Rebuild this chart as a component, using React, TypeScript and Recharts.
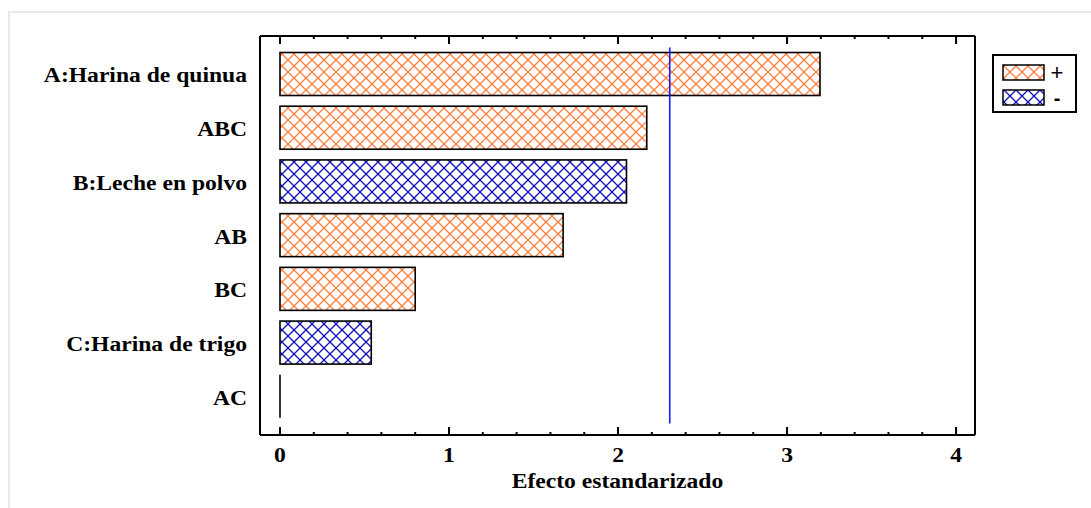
import React from "react";
import { BarChart, Bar, XAxis, YAxis, ReferenceLine, Label } from "recharts";

const categories = ["A:Harina de quinua", "ABC", "B:Leche en polvo", "AB", "BC", "C:Harina de trigo", "AC"];
const effects = [3.195, 2.17, 2.05, 1.675, 0.8, 0.54, 0.0];
const signs = ["+", "+", "-", "+", "+", "-", "+"];
const criticalValue = 2.306;
const majorTicks = [0, 1, 2, 3, 4];
const allTicks = [0, 0.2, 0.4, 0.6, 0.8, 1, 1.2, 1.4, 1.6, 1.8, 2, 2.2, 2.4, 2.6, 2.8, 3, 3.2, 3.4, 3.6, 3.8, 4];
const legendItems = ["+", "-"];
const xTitle = "Efecto estandarizado";

const data = categories.map((name, i) => ({ name, value: effects[i], sign: signs[i] }));

const ORANGE = "#ff7f3f";
const BLUE = "#1010b8";
const FONT = "Liberation Serif, Times New Roman, serif";
const SX = 1.18;
const FS = 20;
const PAD = 11.5;

const Patterns = ({ prefix }: { prefix: string }) => (
  <defs>
    <pattern id={prefix + "Pos"} patternUnits="userSpaceOnUse" width={12} height={12}>
      <rect width={12} height={12} fill="#fff" />
      <path d="M-3,-3 L15,15 M15,-3 L-3,15" stroke={ORANGE} strokeWidth={1.3} />
    </pattern>
    <pattern id={prefix + "Neg"} patternUnits="userSpaceOnUse" width={12} height={12}>
      <rect width={12} height={12} fill="#fff" />
      <path d="M-3,-3 L15,15 M15,-3 L-3,15" stroke={BLUE} strokeWidth={1.3} />
    </pattern>
  </defs>
);

const BarShape = (props: any) => {
  const { x, y, width, height, payload } = props;
  const fill = payload && payload.sign === "-" ? "url(#hNeg)" : "url(#hPos)";
  if (!width || width < 0.5) {
    return <line x1={x} x2={x} y1={y} y2={y + height} stroke="#000" strokeWidth={1.6} />;
  }
  return <rect x={x} y={y} width={width} height={height} fill={fill} stroke="#000" strokeWidth={1.6} />;
};

const RefShape = (props: any) => {
  const { x1, x2, y1, y2 } = props;
  const top = Math.min(y1, y2) + PAD;
  const bottom = Math.max(y1, y2) - PAD;
  return <line x1={x1} x2={x2} y1={top} y2={bottom} stroke="#1a1aff" strokeWidth={1.6} />;
};

const BottomTick = (props: any) => {
  const { x, y, payload } = props;
  const v = payload.value;
  const major = majorTicks.includes(v);
  return (
    <g>
      <line x1={x} x2={x} y1={y} y2={y - (major ? 8 : 3)} stroke="#000" strokeWidth={2} />
      {major && (
        <text
          x={0}
          y={0}
          transform={`translate(${x},${y + 27}) scale(${SX},1)`}
          textAnchor="middle"
          fontFamily={FONT}
          fontWeight="bold"
          fontSize={FS}
          fill="#000"
        >
          {v}
        </text>
      )}
    </g>
  );
};

const TopTick = (props: any) => {
  const { x, y, payload } = props;
  const major = majorTicks.includes(payload.value);
  return <line x1={x} x2={x} y1={y} y2={y + (major ? 8 : 3)} stroke="#000" strokeWidth={2} />;
};

const CatTick = (props: any) => {
  const { x, y, payload } = props;
  return (
    <text
      x={0}
      y={0}
      transform={`translate(${x - 13},${y + 8}) scale(${SX},1)`}
      textAnchor="end"
      fontFamily={FONT}
      fontWeight="bold"
      fontSize={FS}
      fill="#000"
    >
      {payload.value}
    </text>
  );
};

const Title = (props: any) => {
  const vb = props.viewBox || {};
  const cx = (vb.x || 0) + (vb.width || 0) / 2;
  return (
    <text
      x={0}
      y={0}
      transform={`translate(${cx},${(vb.y || 0) + 53}) scale(${SX},1)`}
      textAnchor="middle"
      fontFamily={FONT}
      fontWeight="bold"
      fontSize={FS}
      fill="#000"
    >
      {xTitle}
    </text>
  );
};

const LegendBox = () => (
  <svg width={86} height={60} style={{ position: "absolute", left: 992, top: 54 }}>
    <Patterns prefix="lg" />
    <rect x={1} y={1} width={83} height={57} fill="#fff" stroke="#000" strokeWidth={2} />
    {legendItems.map((s, i) => (
      <g key={s}>
        <rect
          x={11}
          y={11 + i * 25}
          width={41}
          height={15}
          fill={s === "-" ? "url(#lgNeg)" : "url(#lgPos)"}
          stroke="#000"
          strokeWidth={1.5}
        />
        <text
          x={65}
          y={26 + i * 25}
          textAnchor="middle"
          fontFamily="Liberation Sans, Arial, sans-serif"
          fontWeight={s === "-" ? "bold" : "normal"}
          fontSize={s === "-" ? 20 : 22}
          fill="#000"
        >
          {s}
        </text>
      </g>
    ))}
  </svg>
);

export default function App() {
  return (
    <div style={{ position: "fixed", left: 0, top: 0, width: 1091, height: 508, overflow: "hidden", background: "#fff" }}>
      <div
        style={{
          position: "absolute",
          left: 8,
          top: 11,
          width: 1120,
          height: 540,
          border: "2px solid #e8e8e8",
        }}
      />
      <div style={{ position: "absolute", left: 0, top: 0 }}>
        <BarChart
          width={1091}
          height={508}
          data={data}
          layout="vertical"
          margin={{ top: 35, right: 115, bottom: 23, left: 10 }}
          barCategoryGap={0}
        >
          <Patterns prefix="h" />
          <XAxis
            xAxisId="b"
            type="number"
            orientation="bottom"
            domain={[-0.1183, 4.112]}
            allowDataOverflow
            ticks={allTicks}
            interval={0}
            tickSize={0}
            tickMargin={0}
            tickLine={false}
            tick={<BottomTick />}
            height={50}
            axisLine={{ stroke: "#000", strokeWidth: 2 }}
          >
            <Label content={<Title />} />
          </XAxis>
          <XAxis
            xAxisId="t"
            type="number"
            orientation="top"
            domain={[-0.1183, 4.112]}
            allowDataOverflow
            ticks={allTicks}
            interval={0}
            tickSize={0}
            tickMargin={0}
            tickLine={false}
            tick={<TopTick />}
            height={1}
            axisLine={{ stroke: "#000", strokeWidth: 2 }}
          />
          <YAxis
            yAxisId="l"
            type="category"
            dataKey="name"
            width={250}
            tickSize={0}
            tickMargin={0}
            tickLine={false}
            interval={0}
            tick={<CatTick />}
            padding={{ top: PAD, bottom: PAD }}
            axisLine={{ stroke: "#000", strokeWidth: 2 }}
          />
          <YAxis
            yAxisId="r"
            type="category"
            dataKey="name"
            orientation="right"
            width={1}
            tick={false}
            tickLine={false}
            axisLine={{ stroke: "#000", strokeWidth: 2 }}
          />
          <Bar
            xAxisId="b"
            yAxisId="l"
            dataKey="value"
            barSize={43}
            shape={<BarShape />}
            isAnimationActive={false}
          />
          <ReferenceLine xAxisId="b" yAxisId="l" x={criticalValue} shape={<RefShape />} />
        </BarChart>
      </div>
      <LegendBox />
    </div>
  );
}
